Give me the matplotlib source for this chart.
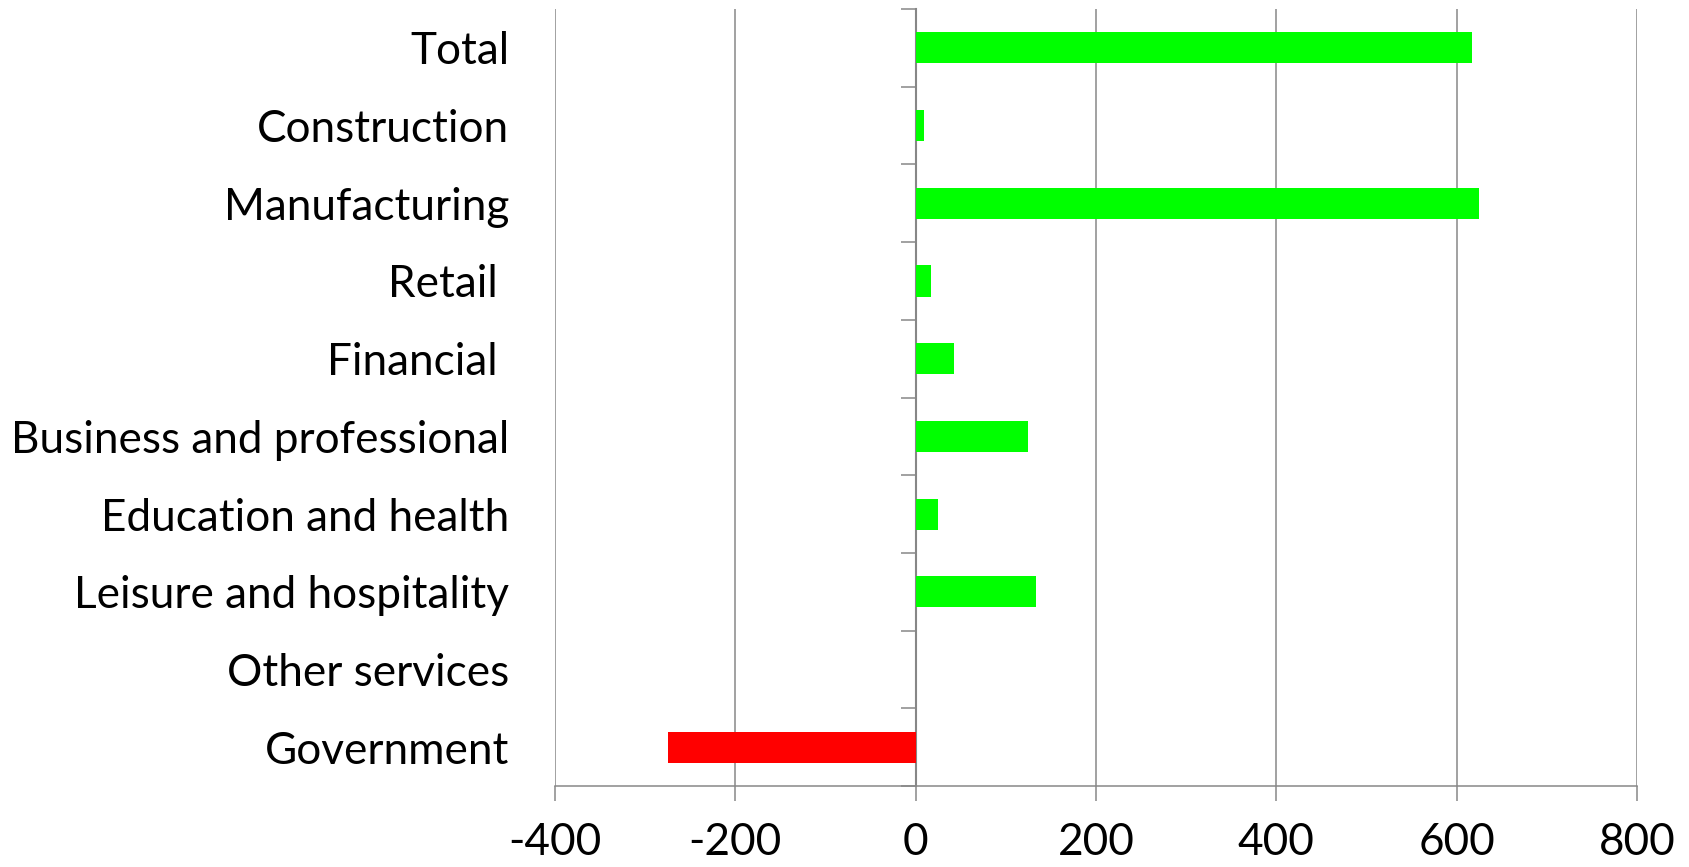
import numpy as np
import matplotlib.pyplot as plt

# === Data ===
categories = ["Total", "Construction", "Manufacturing", "Retail ", "Financial ",
              "Business and professional", "Education and health",
              "Leisure and hospitality", "Other services", "Government"]
values = [617, 9, 625, 17, 42, 125, 25, 134, 0, -275]
x_ticks = [-400, -200, 0, 200, 400, 600, 800]

# === Style ===
plt.rcParams["font.family"] = ["Lato", "DejaVu Sans"]
GRID = "#878787"
FS = 31.8
colors = ["#00FF00" if v >= 0 else "#FF0000" for v in values]

fig = plt.figure(figsize=(16.9, 8.67), dpi=100)
ax = fig.add_axes([0.3284, 0.0934, 0.9686 - 0.3284, 0.9896 - 0.0934])

pos = np.arange(len(categories))
ax.barh(pos, values, height=0.4, color=colors, zorder=3)

ax.set_xlim(x_ticks[0], x_ticks[-1])
ax.set_ylim(len(categories) - 0.5, -0.5)
ax.set_xticks(x_ticks)
ax.set_xticklabels([str(t) for t in x_ticks], fontsize=FS)
ax.tick_params(axis="x", direction="out", length=11, width=1.1, color=GRID, pad=15)
ax.xaxis.grid(True, color=GRID, linewidth=1.1, zorder=0)

ax.set_yticks(pos)
ax.set_yticklabels(categories, fontsize=FS)
ax.tick_params(axis="y", length=0, pad=33)

for s in ["top", "right", "left"]:
    ax.spines[s].set_visible(False)
ax.spines["bottom"].set_color(GRID)
ax.spines["bottom"].set_linewidth(1.1)

# vertical axis crossing at zero, with category boundary ticks
zero_frac = (0 - x_ticks[0]) / (x_ticks[-1] - x_ticks[0])
sec = ax.secondary_yaxis(zero_frac)
sec.set_yticks(np.arange(len(categories) + 1) - 0.5)
sec.set_yticklabels([])
sec.tick_params(axis="y", direction="out", length=11, width=1.1, color=GRID)
sec.spines["left"].set_color(GRID)
sec.spines["left"].set_linewidth(1.5)

fig.savefig("out.png", dpi=100)
